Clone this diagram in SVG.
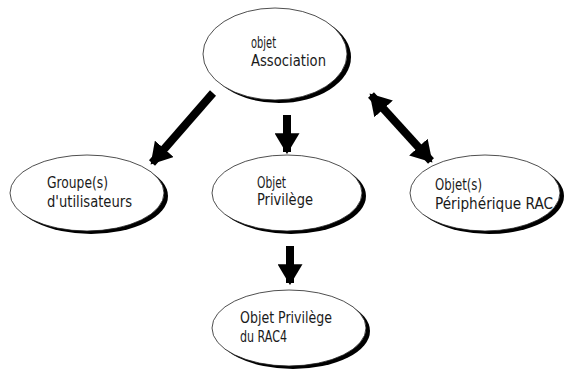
<svg xmlns="http://www.w3.org/2000/svg" width="565" height="370" viewBox="0 0 565 370">
<style>
.sh{fill:#000}
.el{fill:#fff;stroke:#222;stroke-width:0.8}
.t{font-family:"DejaVu Sans Condensed","DejaVu Sans","Liberation Sans",sans-serif;font-stretch:condensed;font-size:15px;fill:#1a1a1a}
.ar{stroke:#000;stroke-width:8;fill:none}
</style>
<defs>
<marker id="ah" viewBox="0 0 10 12" refX="9" refY="6" markerWidth="21" markerHeight="25" markerUnits="userSpaceOnUse" orient="auto-start-reverse">
<path d="M0,0 L10,6 L0,12 Z" fill="#000"/>
</marker>
</defs>
<rect width="565" height="370" fill="#fff"/>
<g id="connectors">
<line class="ar" x1="213" y1="93" x2="152" y2="163" marker-end="url(#ah)"/>
<line class="ar" x1="287" y1="115" x2="287" y2="152" marker-end="url(#ah)"/>
<line class="ar" x1="371" y1="95" x2="431" y2="161" marker-start="url(#ah)" marker-end="url(#ah)"/>
<line class="ar" x1="290" y1="246" x2="290" y2="283" marker-end="url(#ah)"/>
</g>
<g id="association">
<ellipse class="sh" cx="279" cy="57" rx="72" ry="46"/>
<ellipse class="el" cx="275" cy="54" rx="72" ry="46"/>
<text class="t" x="251" y="48" textLength="25" lengthAdjust="spacingAndGlyphs">objet</text>
<text class="t" x="251" y="66" textLength="75" lengthAdjust="spacingAndGlyphs">Association</text>
</g>
<g id="groupes">
<ellipse class="sh" cx="91" cy="196" rx="77" ry="38"/>
<ellipse class="el" cx="87" cy="193" rx="77" ry="38"/>
<text class="t" x="47" y="188" textLength="61" lengthAdjust="spacingAndGlyphs">Groupe(s)</text>
<text class="t" x="47" y="207" textLength="85" lengthAdjust="spacingAndGlyphs">d'utilisateurs</text>
</g>
<g id="privilege">
<ellipse class="sh" cx="291" cy="196" rx="75" ry="38"/>
<ellipse class="el" cx="287" cy="193" rx="75" ry="38"/>
<text class="t" x="257" y="188" textLength="29" lengthAdjust="spacingAndGlyphs">Objet</text>
<text class="t" x="257" y="205" textLength="56" lengthAdjust="spacingAndGlyphs">Privilège</text>
</g>
<g id="peripherique">
<ellipse class="sh" cx="489" cy="196" rx="75" ry="38"/>
<ellipse class="el" cx="485" cy="193" rx="75" ry="38"/>
<text class="t" x="435" y="190" textLength="47" lengthAdjust="spacingAndGlyphs">Objet(s)</text>
<text class="t" x="435" y="209" textLength="118" lengthAdjust="spacingAndGlyphs">Périphérique RAC</text>
</g>
<g id="rac4">
<ellipse class="sh" cx="293" cy="331" rx="77" ry="38"/>
<ellipse class="el" cx="289" cy="328" rx="77" ry="38"/>
<text class="t" x="240" y="323" textLength="92" lengthAdjust="spacingAndGlyphs">Objet Privilège</text>
<text class="t" x="240" y="342" textLength="47" lengthAdjust="spacingAndGlyphs">du RAC4</text>
</g>
</svg>
